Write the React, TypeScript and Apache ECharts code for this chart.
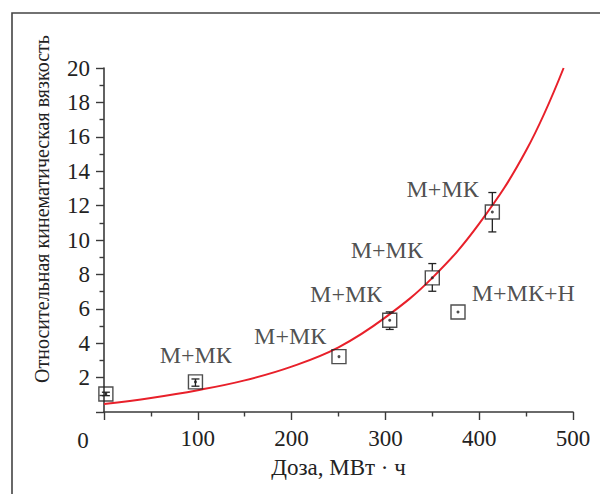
import React, { useEffect, useRef } from "react";
import * as echarts from "echarts";

// Measured points: [dose, viscosity]
const pointsMain: number[][] = [
  [2, 1.05],
  [97.5, 1.75],
  [250.5, 3.22],
  [304.6, 5.33],
  [350, 7.8],
  [414, 11.63],
];
const pointLone: number[][] = [[377.4, 5.81]];
// Error bars: [dose, value, low, high]
const errorBars: number[][] = [
  [2, 1.05, 0.95, 1.15],
  [97.5, 1.75, 1.5, 1.92],
  [304.6, 5.33, 4.8, 5.82],
  [350, 7.8, 7.02, 8.63],
  [414, 11.63, 10.47, 12.76],
];
// Fitted curve
const curveX = [0, 50, 100, 150, 200, 250, 300, 350, 400, 450, 490];
const curveY = [0.46, 0.82, 1.27, 1.84, 2.64, 3.76, 5.5, 7.8, 10.95, 15.2, 20.0];
// Label anchors [dose, value, text]
const labels: [number, number, string][] = [
  [97.8, 3.3, "М+МК"],
  [198.5, 4.4, "М+МК"],
  [258.2, 6.87, "М+МК"],
  [301.5, 9.44, "М+МК"],
  [361, 12.94, "М+МК"],
  [447, 6.93, "М+МК+Н"],
];

const xTicks = { min: 0, max: 500, interval: 100 };
const yTicks = { min: 0, max: 20, interval: 2 };

const FONT = "Times New Roman, Liberation Serif, serif";
const INK = "#222";

export default function App() {
  const ref = useRef<HTMLDivElement>(null);
  useEffect(() => {
    if (!ref.current) return;
    const chart = echarts.init(ref.current, null, { renderer: "svg" });
    const axisLine = { show: true, lineStyle: { color: "#3a3a3a", width: 1.6 } };
    chart.setOption({
      animation: false,
      backgroundColor: "#fff",
      textStyle: { fontFamily: FONT },
      grid: { left: 104, right: 27, top: 68, bottom: 82 },
      xAxis: {
        type: "value",
        ...xTicks,
        name: "Доза, МВт · ч",
        nameLocation: "middle",
        nameGap: 44,
        nameTextStyle: { fontFamily: FONT, fontSize: 23, color: INK },
        axisLine,
        axisTick: { show: true, length: 8, lineStyle: { color: "#3a3a3a", width: 1.4 } },
        minorTick: { show: true, splitNumber: 2, length: 4.5, lineStyle: { color: "#3a3a3a", width: 1.4 } },
        splitLine: { show: false },
        axisLabel: {
          margin: 15,
          fontFamily: FONT,
          fontSize: 23,
          color: INK,
          formatter: (v: number) => (v === 0 ? "" : String(v)),
        },
      },
      yAxis: {
        type: "value",
        ...yTicks,
        axisLine,
        axisTick: { show: true, length: 8, lineStyle: { color: "#3a3a3a", width: 1.4 } },
        minorTick: { show: true, splitNumber: 2, length: 4.5, lineStyle: { color: "#3a3a3a", width: 1.4 } },
        splitLine: { show: false },
        axisLabel: {
          margin: 14,
          fontFamily: FONT,
          fontSize: 23,
          color: INK,
          formatter: (v: number) => (v === 0 ? "" : String(v)),
        },
      },
      graphic: [
        {
          type: "rect",
          shape: { x: 12, y: 13, width: 620, height: 520 },
          style: { fill: "none", stroke: "#444", lineWidth: 1.6 },
          silent: true,
        },
        {
          type: "text",
          x: 83,
          y: 440,
          style: { text: "0", fontFamily: FONT, fontSize: 23, fill: INK, align: "center", verticalAlign: "middle" },
        },
        {
          type: "text",
          x: 42,
          y: 209,
          rotation: Math.PI / 2,
          style: {
            text: "Относительная кинематическая вязкость",
            fontFamily: FONT,
            fontSize: 20,
            fill: INK,
            align: "center",
            verticalAlign: "middle",
          },
        },
      ],
      series: [
        {
          type: "line",
          data: curveX.map((x, i) => [x, curveY[i]]),
          smooth: 0.4,
          showSymbol: false,
          symbol: "none",
          lineStyle: { color: "#e8202a", width: 2 },
          z: 2,
        },
        {
          type: "custom",
          data: errorBars,
          z: 3,
          renderItem: (params: any, api: any) => {
            const x = api.value(0);
            const c = api.coord([x, api.value(1)]);
            const lo = api.coord([x, api.value(2)]);
            const hi = api.coord([x, api.value(3)]);
            const half = 7;
            const cap = 4;
            const st = { stroke: INK, lineWidth: 1.3 };
            const children: any[] = [];
            if (lo[1] - hi[1] > 2 * half) {
              children.push({ type: "line", shape: { x1: c[0], y1: hi[1], x2: c[0], y2: c[1] - half }, style: st });
              children.push({ type: "line", shape: { x1: c[0], y1: c[1] + half, x2: c[0], y2: lo[1] }, style: st });
            } else {
              children.push({ type: "line", shape: { x1: c[0], y1: hi[1], x2: c[0], y2: lo[1] }, style: st });
            }
            children.push({ type: "line", shape: { x1: c[0] - cap, y1: hi[1], x2: c[0] + cap, y2: hi[1] }, style: st });
            children.push({ type: "line", shape: { x1: c[0] - cap, y1: lo[1], x2: c[0] + cap, y2: lo[1] }, style: st });
            return { type: "group", children };
          },
        },
        {
          type: "scatter",
          data: [...pointsMain, ...pointLone],
          symbol: "rect",
          symbolSize: 14,
          itemStyle: { color: "rgba(0,0,0,0)", borderColor: INK, borderWidth: 1.4 },
          z: 4,
        },
        {
          type: "scatter",
          data: [...pointsMain, ...pointLone],
          symbol: "circle",
          symbolSize: 3,
          itemStyle: { color: INK },
          z: 5,
        },
        {
          type: "scatter",
          data: labels.map((l) => [l[0], l[1], l[2]]),
          symbolSize: 0,
          itemStyle: { color: "rgba(0,0,0,0)" },
          label: {
            show: true,
            position: "inside",
            formatter: (p: any) => p.value[2],
            fontFamily: FONT,
            fontSize: 24,
            color: INK,
          },
          z: 6,
        },
      ],
    });
    return () => chart.dispose();
  }, []);
  return (
    <div
      ref={ref}
      style={{ position: "fixed", left: 0, top: 0, width: 600, height: 494, background: "#fff" }}
    />
  );
}
